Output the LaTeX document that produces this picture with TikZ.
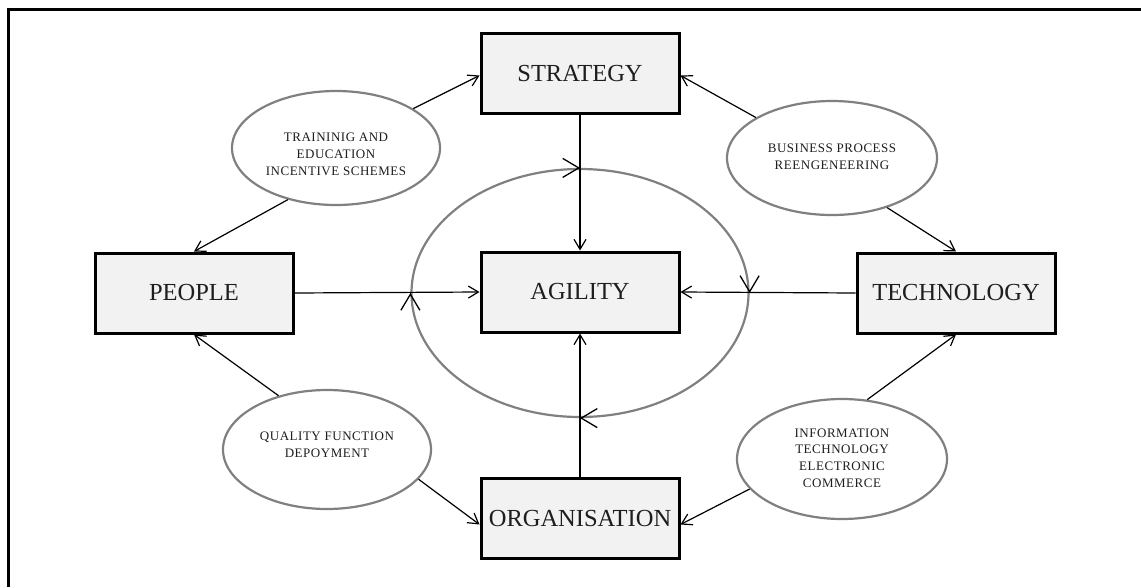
\documentclass[tikz,border=0pt]{standalone}
\usepackage{fontspec}
\setmainfont{Liberation Serif}
\newfontfamily\labelfont[LetterSpace=4]{Liberation Serif}
\usepackage{tikz}
\usetikzlibrary{arrows.meta,positioning,shapes.geometric,calc}
\definecolor{boxcolor}{RGB}{242,242,242}
\definecolor{ringcolor}{RGB}{128,128,128}
\definecolor{textcolor}{RGB}{30,30,30}
% stacked lines inside a bubble, moved up or down by #1
\newcommand{\bubbletext}[2]{\raisebox{#1}[\height][\depth]{\begin{tabular}{@{}c@{}}#2\end{tabular}}}

\begin{document}
\begin{tikzpicture}[x=1pt,y=-1pt,
        box/.style={draw=black,line width=3pt,fill=boxcolor,minimum width=198pt,minimum height=80pt,
            text=textcolor,font=\fontsize{24.5}{28}\selectfont},
        bubble/.style={ellipse,draw=ringcolor,line width=2.2pt,fill=white,inner sep=0pt,
            text=textcolor,font=\labelfont\fontsize{13}{16.7}\selectfont},
        link/.style={black,line width=1.2pt,-{Straight Barb[length=10pt,width=12pt]}},
        turn/.style={black,line width=1.3pt,-{Straight Barb[length=16pt,width=19pt]}}]
        \useasboundingbox (0,0) rectangle (1141,587);
        % draw frame
        \draw[black,line width=3pt] (8.5,587) -- (8.5,9) -- (1141,9);

        % draw ring round agility
        \node[ellipse,draw=ringcolor,line width=2.2pt,minimum width=337pt,minimum height=248pt] (ring) at (580,293) {};

        % draw boxes
        \node[box] (agility) at (580,292) {AGILITY};
        \node[box] (strategy) at (580,73.5) {STRATEGY};
        \node[box] (people) at (194,293) {PEOPLE};
        \node[box] (technology) at (956,293) {TECHNOLOGY};
        \node[box] (organisation) at (580,518.5) {ORGANISATION};

        % draw ellipses
        \node[bubble,minimum width=208pt,minimum height=114pt] (training) at (336,148)
            {\bubbletext{-7pt}{TRAININIG AND\\EDUCATION\\INCENTIVE SCHEMES}};
        \node[bubble,minimum width=210pt,minimum height=114pt] (bpr) at (832,158)
            {\bubbletext{0pt}{BUSINESS PROCESS\\REENGENEERING}};
        \node[bubble,minimum width=208pt,minimum height=119pt] (qfd) at (327,449.5)
            {\bubbletext{4pt}{QUALITY FUNCTION\\DEPOYMENT}};
        \node[bubble,minimum width=210pt,minimum height=120pt] (infotech) at (842,459)
            {\bubbletext{0pt}{INFORMATION\\TECHNOLOGY\\ELECTRONIC\\COMMERCE}};

        % outer links
        \draw[link] (training.27) -- ([yshift=-2pt]strategy.west);
        \draw[link] (training.227) -- (people.north);
        \draw[link] (bpr.152) -- ([yshift=-2pt]strategy.east);
        \draw[link] (bpr.318) -- (technology.north);
        \draw[link] (qfd.132) -- (people.south);
        \draw[link] (qfd.342) -- ([yshift=-6pt]organisation.west);
        \draw[link] (infotech.67) -- (technology.south);
        \draw[link] (infotech.198) -- ([yshift=-6pt]organisation.east);

        % links into agility
        \draw[link] (strategy.south) -- (agility.north);
        \draw[link] (people.east) -- (agility.west);
        \draw[link] (technology.west) -- (agility.east);
        \draw[link] (organisation.north) -- (agility.south);

        % turning marks on the ring
        \draw[turn] ([xshift=-0.1pt]ring.north) -- (ring.north);
        \draw[turn] ([yshift=0.1pt]ring.east) -- (ring.east);
        \draw[turn] ([xshift=0.1pt]ring.south) -- (ring.south);
        \draw[turn] ([yshift=-0.1pt]ring.west) -- (ring.west);
\end{tikzpicture}
\end{document}
